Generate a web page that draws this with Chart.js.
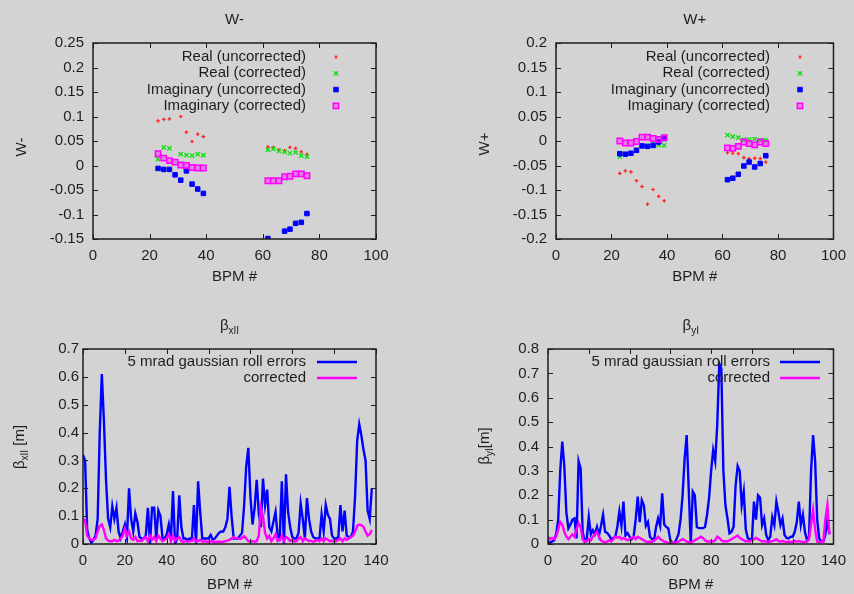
<!DOCTYPE html>
<html>
<head>
<meta charset="utf-8">
<script src="https://cdn.jsdelivr.net/npm/chart.js@4.4.0/dist/chart.umd.min.js"></script>
<style>
  html, body { margin: 0; padding: 0; background: #d3d3d3; }
  body { width: 854px; height: 594px; position: relative; overflow: hidden; }
  .panel { position: absolute; width: 427px; height: 297px; }
</style>
</head>
<body>
<div class="panel" style="left:0;top:0"><canvas id="wMinus" width="427" height="297"></canvas></div>
<div class="panel" style="left:427px;top:0"><canvas id="wPlus" width="427" height="297"></canvas></div>
<div class="panel" style="left:0;top:297px"><canvas id="betaX" width="427" height="297"></canvas></div>
<div class="panel" style="left:427px;top:297px"><canvas id="betaY" width="427" height="297"></canvas></div>
<script>
// ---- data ----
// BPM numbers of the measured W points (two groups)
const wBpm = [23, 25, 27, 29, 31, 33, 35, 37, 39, 61.8, 63.7, 65.7, 67.7, 69.6, 71.6, 73.6, 75.6];

const wmRealUncorr = [0.091, 0.094, 0.095, null, 0.100, 0.068, 0.049, 0.064, 0.059, 0.038, 0.037, 0.032, 0.030, 0.037, 0.035, 0.028, 0.023];
const wmRealCorr   = [0.013, 0.037, 0.035, null, 0.023, 0.021, 0.020, 0.023, 0.021, 0.032, 0.034, 0.030, 0.028, 0.025, 0.027, 0.020, 0.018];
const wmImagUncorr = [-0.006, -0.008, -0.008, -0.019, -0.030, -0.011, -0.038, -0.048, -0.057, -0.149, null, null, -0.134, -0.130, -0.118, -0.116, -0.098];
const wmImagCorr   = [0.024, 0.015, 0.010, 0.007, 0.001, 0.000, -0.004, -0.005, -0.005, -0.031, -0.031, -0.031, -0.023, -0.022, -0.017, -0.017, -0.021];

const wpRealUncorr = [-0.066, -0.061, -0.063, -0.081, -0.093, -0.129, -0.099, -0.113, -0.122, -0.024, -0.025, -0.026, -0.034, -0.036, -0.035, -0.036, -0.043];
const wpRealCorr   = [-0.032, -0.027, -0.025, -0.019, -0.010, -0.010, -0.004, -0.008, -0.009, 0.012, 0.009, 0.007, 0.003, 0.003, 0.004, 0.002, 0.002];
const wpImagUncorr = [-0.026, -0.027, -0.025, -0.019, -0.010, -0.011, -0.009, -0.002, 0.005, -0.079, -0.076, -0.068, -0.051, -0.043, -0.053, -0.046, -0.030];
const wpImagCorr   = [0.000, -0.004, -0.004, -0.001, 0.008, 0.008, 0.005, 0.003, 0.007, -0.014, -0.015, -0.011, -0.002, -0.005, -0.008, -0.002, -0.005];

// beta beat per BPM 0..138
const bxRoll = [
  0.32, 0.30, 0.05, 0.02, 0.005, 0.015, 0.03, 0.09, 0.40, 0.61,
  0.44, 0.23, 0.09, 0.06, 0.135, 0.09, 0.13, 0.045, 0.02, 0.045,
  0.07, 0.025, 0.20, 0.09, 0.045, 0.11, 0.08, 0.025, 0.02, 0.02,
  0.03, 0.13, 0.0, 0.13, 0.13, 0.02, 0.12, 0.10, 0.02, 0.02,
  0.035, 0.07, 0.02, 0.19, 0.0, 0.02, 0.175, 0.06, 0.02, 0.02,
  0.015, 0.02, 0.015, 0.14, 0.0, 0.225, 0.115, 0.02, 0.02, 0.02,
  0.02, 0.032, 0.015, 0.02, 0.03, 0.04, 0.045, 0.045, 0.06, 0.09,
  0.205, 0.10, 0.02, 0.02, 0.02, 0.03, 0.04, 0.14, 0.28, 0.345,
  0.17, 0.07, 0.13, 0.23, 0.11, 0.06, 0.235, 0.14, 0.195, 0.06,
  0.045, 0.08, 0.115, 0.03, 0.02, 0.225, 0.0, 0.25, 0.115, 0.06,
  0.025, 0.02, 0.02, 0.04, 0.145, 0.09, 0.02, 0.165, 0.09, 0.045,
  0.025, 0.02, 0.02, 0.02, 0.105, 0.045, 0.14, 0.105, 0.09, 0.03,
  0.02, 0.02, 0.025, 0.14, 0.045, 0.12, 0.03, 0.025, 0.025, 0.045,
  0.17, 0.37, 0.43, 0.39, 0.34, 0.30, 0.12, 0.09, 0.20
];
const bxCorr = [
  0.09, 0.085, 0.03, 0.02, 0.015, 0.015, 0.02, 0.045, 0.065, 0.07,
  0.05, 0.02, 0.012, 0.01, 0.01, 0.015, 0.01, 0.012, 0.02, 0.03,
  0.055, 0.03, 0.045, 0.02, 0.015, 0.025, 0.01, 0.012, 0.01, 0.02,
  0.025, 0.01, 0.03, 0.015, 0.025, 0.01, 0.03, 0.02, 0.01, 0.015,
  0.02, 0.035, 0.01, 0.03, 0.012, 0.02, 0.025, 0.01, 0.008, 0.01,
  0.008, 0.01, 0.012, 0.02, 0.008, 0.01, 0.015, 0.008, 0.01, 0.008,
  0.008, 0.01, 0.008, 0.007, 0.008, 0.008, 0.007, 0.008, 0.01, 0.012,
  0.015, 0.02, 0.025, 0.022, 0.02, 0.018, 0.022, 0.028, 0.02, 0.01,
  0.008, 0.01, 0.008, 0.01, 0.03, 0.13, 0.10, 0.04, 0.02, 0.03,
  0.01, 0.02, 0.035, 0.01, 0.015, 0.03, 0.01, 0.025, 0.02, 0.01,
  0.015, 0.008, 0.01, 0.02, 0.025, 0.01, 0.02, 0.015, 0.01, 0.012,
  0.008, 0.01, 0.015, 0.01, 0.02, 0.01, 0.02, 0.015, 0.01, 0.012,
  0.008, 0.01, 0.015, 0.02, 0.01, 0.02, 0.015, 0.02, 0.025, 0.03,
  0.045, 0.065, 0.07, 0.068, 0.062, 0.045, 0.03, 0.035, 0.05
];
const byRoll = [
  0.01, 0.005, 0.01, 0.015, 0.04, 0.10, 0.30, 0.42, 0.32, 0.13,
  0.064, 0.08, 0.10, 0.105, 0.023, 0.34, 0.31, 0.05, 0.01, 0.02,
  0.11, 0.04, 0.057, 0.04, 0.07, 0.035, 0.075, 0.12, 0.05, 0.045,
  0.035, 0.02, 0.025, 0.03, 0.07, 0.133, 0.075, 0.174, 0.035, 0.045,
  0.03, 0.02, 0.03, 0.10, 0.194, 0.09, 0.18, 0.16, 0.075, 0.09,
  0.03, 0.02, 0.015, 0.07, 0.105, 0.075, 0.208, 0.08, 0.07, 0.064,
  0.015, 0.005, 0.003, 0.02, 0.04, 0.10, 0.20, 0.35, 0.447, 0.228,
  0.0, 0.215, 0.20, 0.07, 0.065, 0.065, 0.065, 0.07, 0.12, 0.19,
  0.30, 0.385, 0.34, 0.49, 0.74, 0.72, 0.30, 0.16, 0.105, 0.044,
  0.05, 0.07, 0.24, 0.32, 0.30, 0.16, 0.215, 0.06, 0.023, 0.02,
  0.016, 0.174, 0.10, 0.20, 0.19, 0.078, 0.105, 0.037, 0.016, 0.03,
  0.11, 0.078, 0.174, 0.13, 0.078, 0.105, 0.037, 0.025, 0.023, 0.03,
  0.03, 0.05, 0.09, 0.174, 0.078, 0.12, 0.05, 0.016, 0.03, 0.30,
  0.447, 0.34, 0.10, 0.023, 0.01, 0.01, 0.037, 0.10, 0.04
];
const byCorr = [
  0.03, 0.02, 0.025, 0.02, 0.03, 0.06, 0.09, 0.08, 0.05, 0.03,
  0.02, 0.03, 0.04, 0.03, 0.06, 0.085, 0.07, 0.02, 0.01, 0.01,
  0.02, 0.015, 0.03, 0.04, 0.05, 0.03, 0.015, 0.01, 0.008, 0.01,
  0.015, 0.01, 0.02, 0.03, 0.025, 0.03, 0.02, 0.025, 0.02, 0.015,
  0.02, 0.025, 0.03, 0.02, 0.03, 0.025, 0.02, 0.015, 0.01, 0.008,
  0.01, 0.008, 0.015, 0.02, 0.03, 0.02, 0.015, 0.01, 0.008, 0.005,
  0.005, 0.005, 0.005, 0.008, 0.01, 0.015, 0.02, 0.015, 0.01, 0.008,
  0.005, 0.01, 0.015, 0.02, 0.025, 0.03, 0.025, 0.015, 0.01, 0.01,
  0.012, 0.01, 0.015, 0.03, 0.025, 0.015, 0.01, 0.012, 0.01, 0.015,
  0.02, 0.025, 0.03, 0.035, 0.025, 0.02, 0.015, 0.01, 0.012, 0.01,
  0.015, 0.02, 0.025, 0.02, 0.015, 0.01, 0.012, 0.01, 0.008, 0.01,
  0.012, 0.015, 0.02, 0.012, 0.01, 0.012, 0.01, 0.008, 0.01, 0.008,
  0.01, 0.012, 0.01, 0.012, 0.01, 0.008, 0.008, 0.01, 0.02, 0.08,
  0.14, 0.06, 0.01, 0.008, 0.008, 0.01, 0.10, 0.16, 0.04
];

const seriesNames = ["Real (uncorrected)", "Real (corrected)", "Imaginary (uncorrected)", "Imaginary (corrected)"];
const lineNames = ["5 mrad gaussian roll errors", "corrected"];

// ---- look ----
const INK = "#1e1e1e";
const FONT_FAMILY = '"Liberation Sans", Arial, Helvetica, sans-serif';
const FS = 15;
const PW = 427, PH = 297;

function pts(xs, ys) {
  const out = [];
  for (let i = 0; i < xs.length; i += 1) {
    if (ys[i] !== null) out.push({ x: xs[i], y: ys[i] });
  }
  return out;
}
function byIndex(ys) {
  return ys.map((v, i) => ({ x: i, y: v }));
}

// frame with inward mirrored ticks, gnuplot style
const framePlugin = {
  id: "frame",
  afterDatasetsDraw(chart) {
    const { ctx, chartArea: a, scales } = chart;
    const len = 5;
    ctx.save();
    ctx.strokeStyle = INK;
    ctx.lineWidth = 1;
    ctx.beginPath();
    scales.x.ticks.forEach(t => {
      const px = Math.round(scales.x.getPixelForValue(t.value)) + 0.5;
      ctx.moveTo(px, a.bottom); ctx.lineTo(px, a.bottom - len);
      ctx.moveTo(px, a.top); ctx.lineTo(px, a.top + len);
    });
    scales.y.ticks.forEach(t => {
      const py = Math.round(scales.y.getPixelForValue(t.value)) + 0.5;
      ctx.moveTo(a.left, py); ctx.lineTo(a.left + len, py);
      ctx.moveTo(a.right, py); ctx.lineTo(a.right - len, py);
    });
    ctx.stroke();
    ctx.lineWidth = 1.5;
    ctx.strokeRect(a.left, a.top, a.right - a.left, a.bottom - a.top);
    ctx.restore();
  }
};

// titles and axis names, with optional subscript parts
const textPlugin = {
  id: "texts",
  afterDraw(chart, args, opts) {
    const { ctx, chartArea: a } = chart;
    (opts.items || []).forEach(it => {
      ctx.save();
      const cx = it.x === "mid" ? (a.left + a.right) / 2 : it.x;
      ctx.translate(cx, it.y);
      if (it.rotate) ctx.rotate(-Math.PI / 2);
      ctx.fillStyle = INK;
      ctx.textBaseline = "middle";
      ctx.textAlign = "left";
      const fonts = it.parts.map(p => (p.sub ? 10 : FS) + "px " + FONT_FAMILY);
      let w = 0;
      it.parts.forEach((p, i) => { ctx.font = fonts[i]; w += ctx.measureText(p.t).width; });
      let x = -w / 2;
      it.parts.forEach((p, i) => {
        ctx.font = fonts[i];
        ctx.fillText(p.t, x, p.sub ? 5 : 0);
        x += ctx.measureText(p.t).width;
      });
      ctx.restore();
    });
  }
};

// key: right aligned text followed by the sample
const keyPlugin = {
  id: "key",
  afterDraw(chart, args, opts) {
    const ctx = chart.ctx;
    opts.names.forEach((name, i) => {
      const y = opts.y0 + i * opts.dy;
      const ds = chart.data.datasets[i];
      ctx.save();
      ctx.fillStyle = INK;
      ctx.font = FS + "px " + FONT_FAMILY;
      ctx.textAlign = "right";
      ctx.textBaseline = "middle";
      ctx.fillText(name, opts.textRight, y);
      if (opts.line) {
        ctx.strokeStyle = ds.borderColor;
        ctx.lineWidth = ds.borderWidth;
        ctx.beginPath();
        ctx.moveTo(opts.x1, y); ctx.lineTo(opts.x2, y);
        ctx.stroke();
      } else {
        ctx.fillStyle = ds.backgroundColor;
        ctx.strokeStyle = ds.borderColor;
        ctx.lineWidth = ds.pointBorderWidth;
        Chart.helpers.drawPoint(ctx, { pointStyle: ds.pointStyle, radius: ds.pointRadius, borderWidth: ds.pointBorderWidth, rotation: 0 }, opts.mx, y);
      }
      ctx.restore();
    });
  }
};

function tickFmt(v) {
  return String(parseFloat(Number(v).toFixed(2)));
}

function axis(min, max, step, pad, fit) {
  return {
    type: "linear", min: min, max: max,
    grid: { display: false, drawTicks: false },
    border: { display: false },
    ticks: { stepSize: step, padding: pad, color: INK, maxRotation: 0, autoSkip: false,
             font: { family: FONT_FAMILY, size: FS }, callback: tickFmt },
    afterFit: fit
  };
}

function makePanel(id, p) {
  return new Chart(document.getElementById(id), {
    type: p.type,
    data: { datasets: p.datasets },
    options: {
      responsive: false,
      animation: false,
      events: [],
      layout: { padding: { left: 0, top: p.area.top, right: PW - p.area.right, bottom: 0 } },
      plugins: {
        legend: { display: false },
        tooltip: { enabled: false },
        texts: { items: p.texts },
        key: p.key
      },
      scales: {
        x: axis(p.x[0], p.x[1], p.x[2], 8, s => { s.height = PH - p.area.bottom; }),
        y: axis(p.y[0], p.y[1], p.y[2], p.yPad, s => { s.width = p.area.left; })
      }
    },
    plugins: [framePlugin, textPlugin, keyPlugin]
  });
}

function pointSets(ru, rc, iu, ic) {
  return [
    { label: seriesNames[0], data: pts(wBpm, ru), pointStyle: "cross", pointRadius: 1.8, pointBorderWidth: 1.2,
      borderColor: "#ff2020", backgroundColor: "#ff2020", order: 4 },
    { label: seriesNames[1], data: pts(wBpm, rc), pointStyle: "crossRot", pointRadius: 3, pointBorderWidth: 1.4,
      borderColor: "#10e010", backgroundColor: "#10e010", order: 3 },
    { label: seriesNames[2], data: pts(wBpm, iu), pointStyle: "rect", pointRadius: 3.2, pointBorderWidth: 1,
      borderColor: "#0000ff", backgroundColor: "#0000ff", order: 2 },
    { label: seriesNames[3], data: pts(wBpm, ic), pointStyle: "rect", pointRadius: 3.8, pointBorderWidth: 1.5,
      borderColor: "#ff00ff", backgroundColor: "rgba(255,0,255,0.4)", order: 1 }
  ];
}

function lineSets(roll, corr) {
  return [
    { label: lineNames[0], data: byIndex(roll), borderColor: "#0000ff", borderWidth: 2.4, pointRadius: 0, tension: 0, order: 2 },
    { label: lineNames[1], data: byIndex(corr), borderColor: "#ff00ff", borderWidth: 2.4, pointRadius: 0, tension: 0, order: 1 }
  ];
}

makePanel("wMinus", {
  type: "scatter",
  area: { left: 93, right: 376, top: 43, bottom: 239 },
  x: [0, 100, 20], y: [-0.15, 0.25, 0.05], yPad: 9,
  datasets: pointSets(wmRealUncorr, wmRealCorr, wmImagUncorr, wmImagCorr),
  texts: [
    { x: "mid", y: 20, parts: [{ t: "W-" }] },
    { x: "mid", y: 277, parts: [{ t: "BPM #" }] },
    { x: 22, y: 147, rotate: true, parts: [{ t: "W-" }] }
  ],
  key: { names: seriesNames, textRight: 306, mx: 336, y0: 57, dy: 16.3 }
});

makePanel("wPlus", {
  type: "scatter",
  area: { left: 129, right: 413, top: 43, bottom: 239 },
  x: [0, 100, 20], y: [-0.2, 0.2, 0.05], yPad: 9,
  datasets: pointSets(wpRealUncorr, wpRealCorr, wpImagUncorr, wpImagCorr),
  texts: [
    { x: "mid", y: 20, parts: [{ t: "W+" }] },
    { x: "mid", y: 277, parts: [{ t: "BPM #" }] },
    { x: 58, y: 144, rotate: true, parts: [{ t: "W+" }] }
  ],
  key: { names: seriesNames, textRight: 343, mx: 373, y0: 57, dy: 16.3 }
});

makePanel("betaX", {
  type: "line",
  area: { left: 83, right: 376, top: 52, bottom: 247 },
  x: [0, 140, 20], y: [0, 0.7, 0.1], yPad: 4,
  datasets: lineSets(bxRoll, bxCorr),
  texts: [
    { x: "mid", y: 29, parts: [{ t: "\u03b2" }, { t: "xII", sub: true }] },
    { x: "mid", y: 288, parts: [{ t: "BPM #" }] },
    { x: 20, y: 150, rotate: true, parts: [{ t: "\u03b2" }, { t: "xII", sub: true }, { t: " [m]" }] }
  ],
  key: { names: lineNames, line: true, textRight: 306, x1: 317, x2: 357, y0: 65, dy: 16 }
});

makePanel("betaY", {
  type: "line",
  area: { left: 121, right: 413, top: 52, bottom: 247 },
  x: [0, 140, 20], y: [0, 0.8, 0.1], yPad: 9,
  datasets: lineSets(byRoll, byCorr),
  texts: [
    { x: "mid", y: 29, parts: [{ t: "\u03b2" }, { t: "yI", sub: true }] },
    { x: "mid", y: 288, parts: [{ t: "BPM #" }] },
    { x: 58, y: 149, rotate: true, parts: [{ t: "\u03b2" }, { t: "yI", sub: true }, { t: "[m]" }] }
  ],
  key: { names: lineNames, line: true, textRight: 343, x1: 353, x2: 393, y0: 65, dy: 16 }
});
</script>
</body>
</html>
